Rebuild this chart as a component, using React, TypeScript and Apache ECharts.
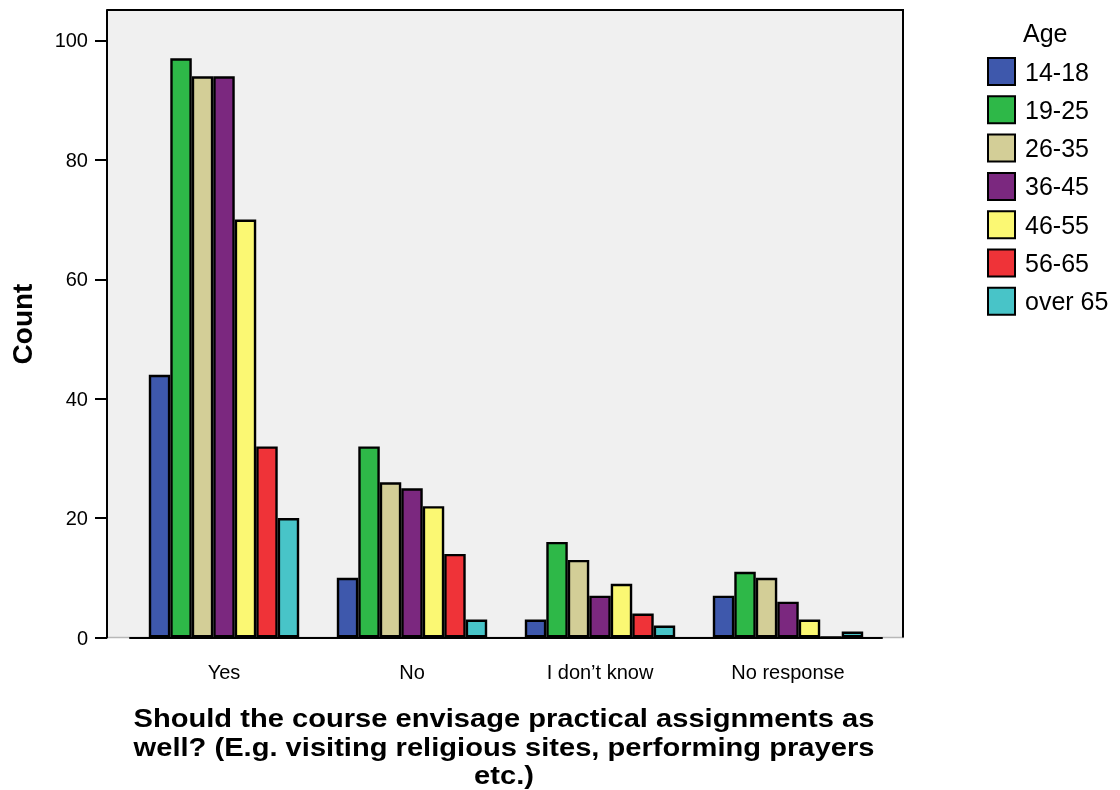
import React, { useEffect, useRef } from "react";
import * as echarts from "echarts";

const categories = ["Yes", "No", "I don\u2019t know", "No response"];
const ageGroups = ["14-18", "19-25", "26-35", "36-45", "46-55", "56-65", "over 65"];
const colors = ["#3e58ac", "#2eb848", "#d3ce97", "#7b287f", "#fbf873", "#ef3338", "#48c4c8"];
const v14_18 = [44, 10, 3, 7];
const v19_25 = [97, 32, 16, 11];
const v26_35 = [94, 26, 13, 10];
const v36_45 = [94, 25, 7, 6];
const v46_55 = [70, 22, 9, 3];
const v56_65 = [32, 14, 4, 0];
const vOver65 = [20, 3, 2, 1];
const seriesValues = [v14_18, v19_25, v26_35, v36_45, v46_55, v56_65, vOver65];
const yTicks = [0, 20, 40, 60, 80, 100];
const xTitle = "Should the course envisage practical assignments as\nwell? (E.g. visiting religious sites, performing prayers\netc.)";

export default function App() {
  const ref = useRef<HTMLDivElement>(null);
  useEffect(() => {
    const chart = echarts.init(ref.current!, null, { renderer: "svg" });
    const font = "'Liberation Sans', Arial, sans-serif";
    chart.setOption({
      animation: false,
      textStyle: { fontFamily: font },
      grid: { left: 130, right: 238, top: 10, bottom: 152.5, containLabel: false },
      legend: {
        orient: "vertical",
        left: 987,
        top: 57,
        padding: 0,
        itemWidth: 27,
        itemHeight: 27,
        itemGap: 9.3,
        icon: "rect",
        itemStyle: { borderColor: "#000", borderWidth: 2 },
        textStyle: { fontSize: 25, color: "#000", fontFamily: font, padding: [0, 0, 0, 5] },
        data: ageGroups,
      },
      xAxis: {
        type: "category",
        data: categories,
        axisLine: { lineStyle: { color: "#000", width: 2 } },
        axisTick: { alignWithLabel: true, length: 13, lineStyle: { color: "#000", width: 2 } },
        axisLabel: { fontSize: 20, color: "#000", margin: 24, fontFamily: font },
      },
      yAxis: {
        type: "value",
        min: 0,
        max: 105.1,
        interval: 20,
        offset: 23,
        axisLine: { show: true, lineStyle: { color: "#000", width: 2 } },
        axisTick: { show: true, length: 12, customValues: yTicks, lineStyle: { color: "#000", width: 2 } },
        axisLabel: {
          fontSize: 20,
          color: "#000",
          margin: 19,
          fontFamily: font,
          customValues: yTicks,
        },
        splitLine: { show: false },
      },
      graphic: [
        {
          type: "rect",
          z: -10,
          shape: { x: 107, y: 10, width: 796, height: 627.5 },
          style: { fill: "#f0f0f0", stroke: "#b8b8b8", lineWidth: 1.5 },
          silent: true,
        },
        {
          type: "polyline",
          z: -5,
          shape: { points: [[107, 10], [903, 10], [903, 637.5]] },
          style: { stroke: "#000", lineWidth: 2, fill: null },
          silent: true,
        },
        {
          type: "text",
          x: 1023,
          y: 33,
          style: { text: "Age", fontSize: 25, fill: "#000", fontFamily: font, textAlign: "left", textVerticalAlign: "middle" },
        },
        {
          type: "text",
          x: 22,
          y: 324,
          rotation: Math.PI / 2,
          style: { text: "Count", fontSize: 28, fontWeight: "bold", fill: "#000", fontFamily: font, textAlign: "center", textVerticalAlign: "middle" },
        },
        {
          type: "text",
          x: 504,
          y: 747,
          scaleX: 1.12,
          style: { text: xTitle, fontSize: 26, lineHeight: 28.5, fontWeight: "bold", fill: "#000", fontFamily: font, textAlign: "center", textVerticalAlign: "middle" },
        },
      ],
      series: ageGroups.map((name, i) => ({
        name,
        type: "bar",
        data: seriesValues[i],
        barGap: "0%",
        barCategoryGap: "20%",
        itemStyle: { color: colors[i], borderColor: "#000", borderWidth: 2.4 },
      })),
    });
    return () => chart.dispose();
  }, []);
  return <div ref={ref} style={{ position: "fixed", left: 0, top: 0, width: 1120, height: 790 }} />;
}
